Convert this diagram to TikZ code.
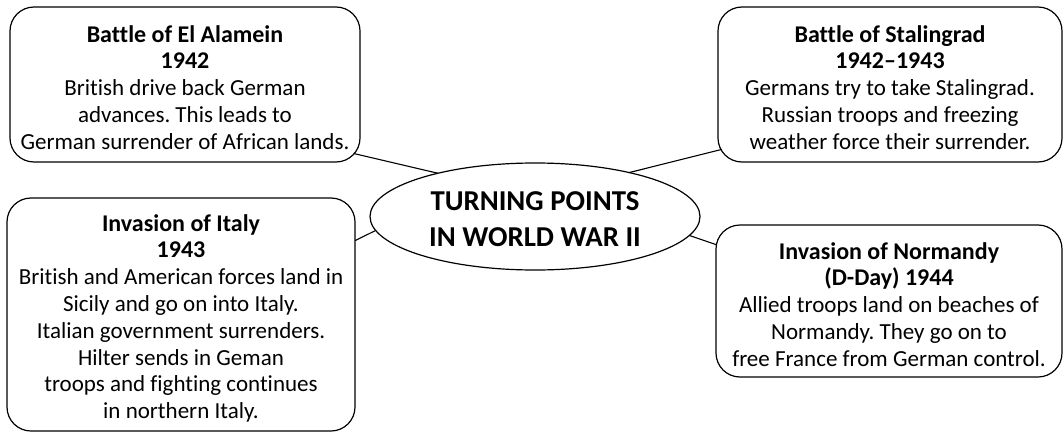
\documentclass[tikz,border=0pt]{standalone}
\usepackage{fontspec}
\setmainfont{Carlito}[Ligatures={NoCommon}]
\usetikzlibrary{shapes.geometric,calc}
\newcommand{\hd}[1]{{\fontsize{24}{26.8}\selectfont\bfseries #1}}
\begin{document}
\frenchspacing
\begin{tikzpicture}[x=1pt,y=1pt,
  box/.style={draw, line width=1.2pt, rounded corners=24pt, inner sep=0pt, outer sep=0pt},
  txt/.style={anchor=north, align=center, inner sep=0pt, font=\fontsize{23}{26.8}\selectfont\frenchspacing},
  link/.style={line width=1.1pt}]
\useasboundingbox (0,0) rectangle (1064,432);
% boxes
\node[box, minimum width=350pt, minimum height=155pt] (box1) at (185,347.5) {};
\node[box, minimum width=344pt, minimum height=155pt] (box2) at (890,347.5) {};
\node[box, minimum width=348pt, minimum height=233pt] (box3) at (181,117.5) {};
\node[box, minimum width=346pt, minimum height=152pt] (box4) at (889,131) {};
% central ellipse
\node[draw, ellipse, line width=1.2pt, minimum width=330pt, minimum height=107pt, inner sep=0pt, outer sep=0pt] (ell) at (535,215.5) {};
\node[align=center, inner sep=0pt, font=\fontsize{28.8}{36}\selectfont\bfseries] (title) at (535,213) {TURNING POINTS\\IN WORLD WAR II};
% texts
\node[txt] (t1) at (185,407) {\hd{Battle of El Alamein}\\\hd{1942}\\British drive back German\\advances. This leads to\\German surrender of African lands.};
\node[txt] (t2) at (890,407) {\hd{Battle of Stalingrad}\\\hd{1942–1943}\\Germans try to take Stalingrad.\\Russian troops and freezing\\weather force their surrender.};
\node[txt] (t3) at (181,218) {\hd{Invasion of Italy}\\\hd{1943}\\British and American forces land in\\Sicily and go on into Italy.\\Italian government surrenders.\\Hilter sends in Geman\\troops and fighting continues\\in northern Italy.};
\node[txt] (t4) at (889,190) {\hd{Invasion of Normandy}\\\hd{(D-Day) 1944}\\Allied troops land on beaches of\\Normandy. They go on to\\free France from German control.};
% connection points on the rounded corners
\coordinate (c1) at ($(box1.south east)+(-6.25,8.5)$);
\coordinate (c2) at ($(box2.south west)+(3.35,12.5)$);
\coordinate (c4) at ($(box4.north west)+(0.6,-19.8)$);
% connectors
\draw[link] (c1) -- (ell.156.7);
\draw[link] (ell.25.4) -- (c2);
\draw[link] (box3.23.8) -- (ell.185.7);
\draw[link] (ell.-7.8) -- (c4);
\end{tikzpicture}
\end{document}
